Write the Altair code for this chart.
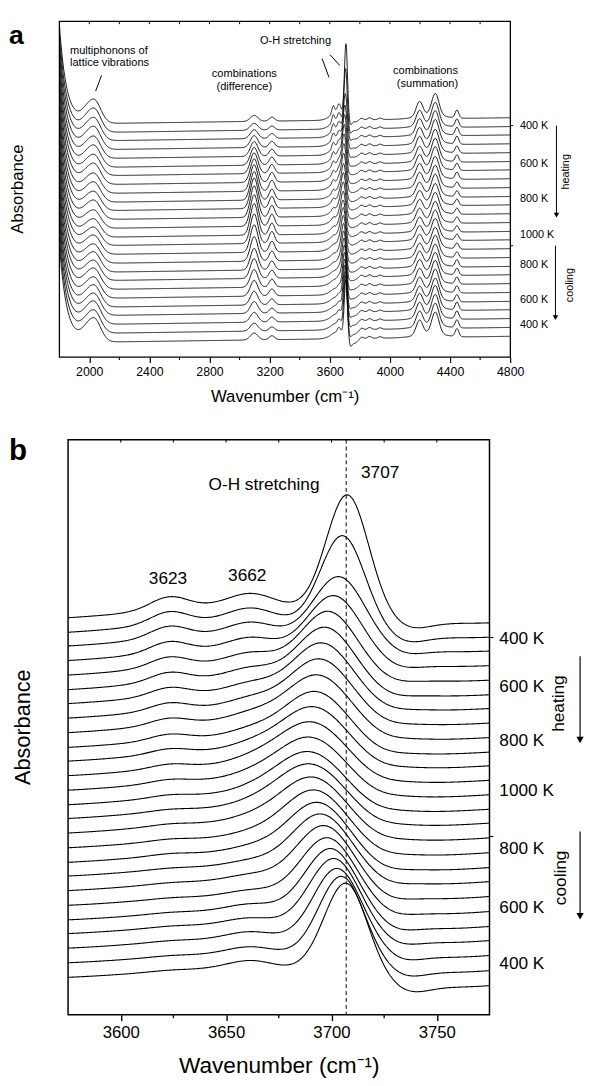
import numpy as np
import pandas as pd
import altair as alt

FONT = "Liberation Sans"

# ---------------- data (absorbance in arbitrary units) ----------------
TEMPS = [300, 400, 450, 500, 550, 600, 650, 700, 750, 800, 850, 900, 950, 1000,
         950, 900, 850, 800, 750, 700, 650, 600, 550, 500, 450, 400]
OFFSET = [238.0, 229.0, 220.5, 211.5, 202.5, 193.5, 185.0, 176.0, 167.0, 158.0, 149.5, 140.5, 131.5,
          122.5, 114.0, 105.0, 96.0, 87.0, 78.5, 69.5, 60.5, 51.5, 43.0, 34.0, 25.0, 16.0]
WALL = [103, 103, 103, 103, 103, 103, 103, 103, 103, 103, 103, 103, 103,
        103, 103, 103, 103, 103, 103, 103, 103, 103, 103, 103, 103, 103]
MULTIPHONON = [24, 24, 23, 23, 22, 22, 21, 21, 20, 20, 19, 19, 18,
               18, 18, 19, 19, 20, 20, 21, 21, 22, 22, 23, 23, 24]
DIFF_3097 = [6, 7, 9, 12, 15, 18, 21, 24, 27, 29, 31, 32, 32,
             32, 30, 28, 25, 22, 20, 18, 16, 14, 12, 10, 8, 7]
DIFF_3215 = [4, 4, 5, 6, 7, 8, 9, 10, 11, 11, 12, 12, 12,
             12, 12, 11, 10, 9, 8, 8, 7, 6, 5, 5, 4, 4]
OH_CENTER = [3707.6, 3705.4, 3703.8, 3701.5, 3699.0, 3697.5, 3696.0, 3695.0, 3694.0, 3693.0, 3692.0,
             3691.0, 3690.5, 3690.0, 3690.5, 3691.5, 3692.5, 3694.0, 3695.5, 3697.0, 3698.5, 3700.0,
             3701.5, 3703.0, 3705.0, 3707.0]
OH_HEIGHT = [73.5, 57.0, 40.0, 37.0, 36.0, 35.0, 34.0, 33.0, 32.0, 31.0, 30.0, 29.5, 29.0,
             29.0, 30.0, 31.0, 32.5, 34.0, 35.5, 37.5, 39.5, 42.0, 44.5, 47.5, 52.0, 57.0]
OH_SIGMA_L = [10.0, 10.5, 12.0, 12.5, 13.0, 13.5, 14.0, 14.5, 15.0, 15.0, 15.5, 16.0, 16.0,
              16.0, 16.0, 15.5, 15.0, 14.5, 14.0, 13.5, 13.0, 12.5, 12.0, 11.5, 11.0, 10.5]
OH_SIGMA_R = [10.0, 10.5, 12.0, 12.5, 13.0, 13.5, 14.0, 14.5, 15.0, 15.0, 15.5, 16.0, 16.0,
              16.0, 16.0, 15.5, 15.0, 14.5, 14.0, 13.5, 13.0, 12.5, 12.0, 11.5, 10.5, 10.0]
OH_3623 = [7.7, 7.5, 7.0, 6.5, 6.0, 5.5, 5.0, 4.5, 4.0, 3.5, 3.0, 2.5, 2.0,
           1.5, 1.0, 1.0, 1.0, 1.0, 0.5, 0.5, 0.5, 0.5, 0.5, 0.5, 0.5, 0.5]
OH_3662 = [7.8, 7.8, 7.5, 7.0, 6.5, 6.0, 5.5, 5.0, 4.5, 4.0, 3.5, 3.0, 2.5,
           2.0, 2.0, 2.5, 2.5, 3.0, 3.0, 3.5, 3.5, 4.0, 4.0, 4.5, 4.5, 5.0]
OH_BROAD = [9.0, 9.0, 9.0, 9.0, 9.0, 9.0, 8.5, 8.5, 8.5, 8.0, 8.0, 8.0, 8.0,
            8.0, 8.0, 8.0, 7.5, 7.5, 7.5, 7.5, 7.0, 7.0, 7.0, 7.0, 6.7, 6.7]
OH_UNDERSHOOT = [4.7, 4.5, 3.5, 3.0, 2.5, 2.5, 2.0, 2.0, 2.0, 2.0, 2.0, 2.0, 2.0,
                 2.0, 2.0, 2.0, 2.0, 2.5, 2.5, 3.0, 3.0, 3.5, 3.5, 4.0, 4.5, 5.0]
OH_STEP = [2.5, 2.5, 2.7, 2.9, 3.1, 3.3, 3.5, 3.6, 3.7, 3.8, 3.9, 4.0, 4.0,
           4.0, 4.1, 4.2, 4.3, 4.4, 4.5, 4.6, 4.8, 4.9, 5.0, 5.1, 5.3, 5.4]
SUM_4197 = [15, 15, 15, 15, 15, 14, 14, 14, 14, 13, 13, 13, 13,
            13, 13, 13, 13, 14, 14, 14, 14, 14, 15, 15, 15, 15]
SUM_4302 = [22, 22, 22, 22, 21, 21, 21, 20, 20, 20, 19, 19, 19,
            19, 19, 19, 20, 20, 20, 21, 21, 21, 22, 22, 22, 22]
SUM_4446 = [8, 8, 8, 8, 7, 7, 7, 7, 6, 6, 6, 6, 6,
            6, 6, 6, 6, 7, 7, 7, 7, 7, 8, 8, 8, 8]
# small bands after the O-H peak (centre cm-1, height)
POST_OH_BANDS = [(3810, 2.0), (3865, 2.0), (3935, 1.5)]

# axis ticks / labels
TICKS_A = [2000, 2400, 2800, 3200, 3600, 4000, 4400, 4800]
MINOR_A = [2200, 2600, 3000, 3400, 3800, 4200, 4600]
TOP_A = [2000, 2200, 2400, 2600, 2800, 3000, 3200, 3400, 3600, 3800, 4000, 4200, 4400, 4600]
TICKS_B = [3600, 3650, 3700, 3750]
MINOR_B = [3625, 3675, 3725]
TOP_B = [3600, 3625, 3650, 3675, 3700, 3725, 3750]
RIGHT_TICKS_A = [235, 113]
RIGHT_TICKS_B = [229.9, 106.8]
LABELS = ["400 K", "600 K", "800 K", "1000 K", "800 K", "600 K", "400 K"]


def g(x, c, s):
    return np.exp(-0.5 * ((x - c) / s) ** 2)


def ag(x, c, sl, sr):
    s = np.where(x < c, sl, sr)
    return np.exp(-0.5 * ((x - c) / s) ** 2)


def spectrum(i, wn):
    c = OH_CENTER[i]
    y = OFFSET[i] + 5.0 * (wn - 2500) / 2300
    y = y + WALL[i] * np.exp(-(wn - 1800) / 48.8)
    y = y + MULTIPHONON[i] * ag(wn, 2030, 60, 45)
    y = y + DIFF_3097[i] * g(wn, 3097, 25) + DIFF_3215[i] * g(wn, 3215, 18)
    y = y + OH_BROAD[i] * g(wn, 3655, 45) + OH_3623[i] * g(wn, 3623, 9) + OH_3662[i] * g(wn, 3662, 11)
    y = y + OH_HEIGHT[i] * ag(wn, c, OH_SIGMA_L[i], OH_SIGMA_R[i])
    y = y - OH_UNDERSHOOT[i] * g(wn, c + 30, 9) - OH_STEP[i] * g(wn, c + 50, 28)
    for bc, bh in POST_OH_BANDS:
        y = y + bh * g(wn, bc, 12)
    y = y + SUM_4197[i] * g(wn, 4197, 22) + SUM_4302[i] * g(wn, 4302, 24) + SUM_4446[i] * g(wn, 4446, 12)
    y = y + 4 * g(wn, 4270, 90)
    return y


grid_a = np.concatenate([np.arange(1800, 3560, 4.0), np.arange(3560, 3800, 1.0), np.arange(3800, 4800.1, 4.0)])
grid_b = np.arange(3575, 3775.01, 0.5)
rows_a, rows_b = [], []
for i in range(len(TEMPS)):
    for w, v in zip(grid_a, spectrum(i, grid_a)):
        rows_a.append((i, float(w), round(float(v), 2)))
    for w, v in zip(grid_b, spectrum(i, grid_b)):
        rows_b.append((i, float(w), round(float(v), 2)))
df_a = pd.DataFrame(rows_a, columns=["i", "wn", "a"])
df_b = pd.DataFrame(rows_b, columns=["i", "wn", "a"])
ONE = pd.DataFrame({"d": [0]})

WA, HA = 458, 341
WB, HB = 428, 584
XA = alt.Scale(domain=[1800, 4800], nice=False, zero=False)
YA = alt.Scale(domain=[0, 341], nice=False, zero=False)
XB = alt.Scale(domain=[3575, 3775], nice=False, zero=False)
YB = alt.Scale(domain=[-3.4, 352.3], nice=False, zero=False)

TITLE = "Wavenumber  (cm\u207b\u00b9)"
AXA = alt.Axis(values=TICKS_A, tickSize=5.5, tickWidth=1.2, tickColor="black", labelFontSize=12.5,
               labelFont=FONT, labelColor="black", labelPadding=3, labelFlush=False, labelOverlap=False,
               title=TITLE, titleFont=FONT, titleFontSize=17, titleFontWeight="normal", titleColor="black",
               titlePadding=11, domain=False, grid=False, format="d")
AXB = alt.Axis(values=TICKS_B, tickSize=6, tickWidth=1.4, tickColor="black", labelFontSize=17,
               labelFont=FONT, labelColor="black", labelPadding=4, labelFlush=False, labelOverlap=False,
               title=TITLE, titleFont=FONT, titleFontSize=23, titleFontWeight="normal", titleColor="black",
               titlePadding=15, domain=False, grid=False, format="d")


def txt(px, py, s, size, align="center", baseline="middle", angle=0, weight="normal"):
    kw = dict(align=align, baseline=baseline, fontSize=size, font=FONT, color="black",
              fontWeight=weight, text=s)
    if angle:
        kw["angle"] = angle
    return alt.Chart(ONE).mark_text(**kw).encode(x=alt.value(px), y=alt.value(py))


def seg(x1, y1, x2, y2, w=1.0):
    return alt.Chart(ONE).mark_rule(color="black", strokeWidth=w).encode(
        x=alt.value(x1), y=alt.value(y1), x2=alt.value(x2), y2=alt.value(y2))


def arrow_head(px, py, size):
    return alt.Chart(ONE).mark_point(shape="triangle-down", filled=True, color="black",
                                     size=size, opacity=1).encode(x=alt.value(px), y=alt.value(py))


# ---------------- panel a ----------------
lines_a = alt.Chart(df_a).mark_line(clip=True, color="black", strokeWidth=0.9).encode(
    x=alt.X("wn:Q", scale=XA, axis=AXA),
    y=alt.Y("a:Q", scale=YA, axis=None),
    detail="i:N",
)
minor_a = alt.Chart(pd.DataFrame({"wn": MINOR_A})).mark_rule(color="black", strokeWidth=1.1).encode(
    x=alt.X("wn:Q", scale=XA, axis=AXA), y=alt.value(HA), y2=alt.value(HA + 3))
top_a = alt.Chart(pd.DataFrame({"wn": TOP_A})).mark_rule(color="black", strokeWidth=1).encode(
    x=alt.X("wn:Q", scale=XA, axis=AXA), y=alt.value(0), y2=alt.value(3))
right_a = alt.Chart(pd.DataFrame({"a": RIGHT_TICKS_A})).mark_rule(color="black", strokeWidth=1).encode(
    y=alt.Y("a:Q", scale=YA, axis=None), x=alt.value(WA), x2=alt.value(WA + 3))

ann_a = [
    txt(-51, 23, "a", 27, align="left", baseline="alphabetic", weight="bold"),
    txt(-41.5, HA / 2, "Absorbance", 17, angle=270),
    txt(11, 30, "multiphonons of", 11.2, align="left"),
    txt(11, 42, "lattice vibrations", 11.2, align="left"),
    seg(43, 55, 37, 71),
    txt(188, 54, "combinations", 11.2),
    txt(188, 67, "(difference)", 11.2),
    txt(240, 20, "O-H stretching", 11.2),
    seg(267, 38, 274, 57),
    seg(275, 34, 285, 45),
    txt(372, 51, "combinations", 11.2),
    txt(374, 64, "(summation)", 11.2),
]
lab_y_a = [106, 145, 181, 217, 248, 283, 309]
for s, yy in zip(LABELS, lab_y_a):
    ann_a.append(txt(468, yy, s, 11, align="left"))
ann_a += [
    seg(505, 106, 505, 196, 1),
    arrow_head(505, 197, 30),
    txt(515, 153, "heating", 11, angle=270),
    seg(504, 228, 504, 300, 1),
    arrow_head(504, 301, 30),
    txt(519, 268, "cooling", 11, angle=270),
]
panel_a = alt.layer(lines_a, minor_a, top_a, right_a, *ann_a).properties(
    width=WA, height=HA, view=alt.ViewBackground(stroke="black", strokeWidth=1.3))

# ---------------- panel b ----------------
lines_b = alt.Chart(df_b).mark_line(clip=True, color="black", strokeWidth=1.1).encode(
    x=alt.X("wn:Q", scale=XB, axis=AXB),
    y=alt.Y("a:Q", scale=YB, axis=None),
    detail="i:N",
)
minor_b = alt.Chart(pd.DataFrame({"wn": MINOR_B})).mark_rule(color="black", strokeWidth=1.3).encode(
    x=alt.X("wn:Q", scale=XB, axis=AXB), y=alt.value(HB), y2=alt.value(HB + 3.5))
top_b = alt.Chart(pd.DataFrame({"wn": TOP_B})).mark_rule(color="black", strokeWidth=1).encode(
    x=alt.X("wn:Q", scale=XB, axis=AXB), y=alt.value(0), y2=alt.value(3))
right_b = alt.Chart(pd.DataFrame({"a": RIGHT_TICKS_B})).mark_rule(color="black", strokeWidth=1).encode(
    y=alt.Y("a:Q", scale=YB, axis=None), x=alt.value(WB), x2=alt.value(WB + 4))
dash_b = alt.Chart(pd.DataFrame({"wn": [3707]})).mark_rule(color="black", strokeWidth=1,
                                                            strokeDash=[4, 3]).encode(
    x=alt.X("wn:Q", scale=XB, axis=AXB))

ann_b = [
    txt(-60, 21, "b", 30, align="left", baseline="alphabetic", weight="bold"),
    txt(-46, HB / 2, "Absorbance", 22, angle=270),
    txt(199, 46, "O-H stretching", 17.5),
    txt(317, 34, "3707", 17.5),
    txt(101.5, 142, "3623", 17.5),
    txt(182, 139, "3662", 17.5),
]
lab_y_b = [203, 251, 306, 357, 416, 476, 533]
for s, yy in zip(LABELS, lab_y_b):
    ann_b.append(txt(438, yy, s, 17.5, align="left"))
ann_b += [
    seg(520, 220, 520, 304, 1.2),
    arrow_head(520, 305, 55),
    txt(499, 268, "heating", 17.5, angle=270),
    seg(520, 398, 520, 483, 1.2),
    arrow_head(520, 484, 55),
    txt(501, 445, "cooling", 17.5, angle=270),
]
panel_b = alt.layer(lines_b, minor_b, top_b, right_b, dash_b, *ann_b).properties(
    width=WB, height=HB, view=alt.ViewBackground(stroke="black", strokeWidth=1.5))

spacer = alt.Chart(ONE).mark_point(opacity=0).encode(x=alt.value(0), y=alt.value(0)).properties(
    width=1, height=HB, view=alt.ViewBackground(stroke="transparent"))

row_b = alt.hconcat(spacer, panel_b, spacing=8, bounds="flush")
chart = alt.vconcat(panel_a, row_b, spacing=84, bounds="flush").properties(
    padding={"left": 0, "top": 3, "right": 0, "bottom": 0}
)

chart.save("out.html", embed_options={"renderer": "svg", "actions": False})
